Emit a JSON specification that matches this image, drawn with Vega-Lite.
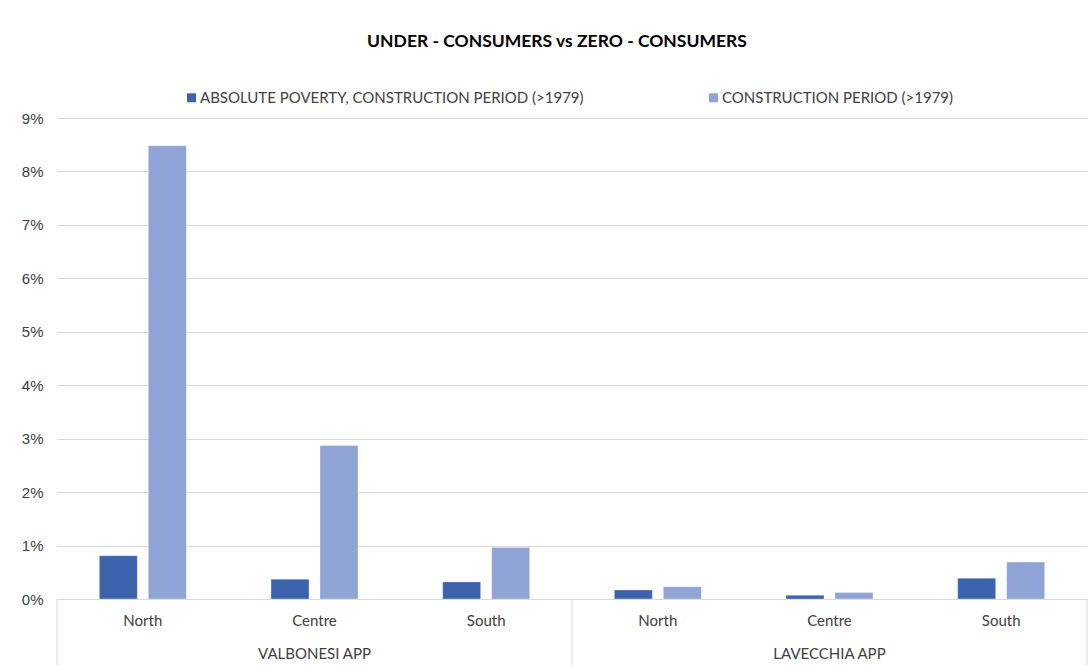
{
  "$schema": "https://vega.github.io/schema/vega-lite/v6.json",
  "width": 1030,
  "height": 481,
  "autosize": {"type": "none"},
  "padding": {"left": 57, "top": 118, "right": 3, "bottom": 66},
  "background": "white",
  "title": {
    "text": "UNDER - CONSUMERS vs ZERO - CONSUMERS",
    "font": "Lato",
    "fontSize": 17.5,
    "fontWeight": "bold",
    "color": "#000000",
    "anchor": "middle",
    "dx": -15,
    "offset": 40
  },
  "config": {"view": {"stroke": null}, "font": "Lato"},
  "layer": [
    {
      "data": {
        "values": [
          {"key": "VALBONESI APP|North", "series": "ABSOLUTE POVERTY, CONSTRUCTION PERIOD (>1979)", "value": 0.0081},
          {"key": "VALBONESI APP|North", "series": "CONSTRUCTION PERIOD (>1979)", "value": 0.0848},
          {"key": "VALBONESI APP|Centre", "series": "ABSOLUTE POVERTY, CONSTRUCTION PERIOD (>1979)", "value": 0.0037},
          {"key": "VALBONESI APP|Centre", "series": "CONSTRUCTION PERIOD (>1979)", "value": 0.0287},
          {"key": "VALBONESI APP|South", "series": "ABSOLUTE POVERTY, CONSTRUCTION PERIOD (>1979)", "value": 0.0032},
          {"key": "VALBONESI APP|South", "series": "CONSTRUCTION PERIOD (>1979)", "value": 0.00965},
          {"key": "LAVECCHIA APP|North", "series": "ABSOLUTE POVERTY, CONSTRUCTION PERIOD (>1979)", "value": 0.0017},
          {"key": "LAVECCHIA APP|North", "series": "CONSTRUCTION PERIOD (>1979)", "value": 0.0023},
          {"key": "LAVECCHIA APP|Centre", "series": "ABSOLUTE POVERTY, CONSTRUCTION PERIOD (>1979)", "value": 0.0007},
          {"key": "LAVECCHIA APP|Centre", "series": "CONSTRUCTION PERIOD (>1979)", "value": 0.0012},
          {"key": "LAVECCHIA APP|South", "series": "ABSOLUTE POVERTY, CONSTRUCTION PERIOD (>1979)", "value": 0.0039},
          {"key": "LAVECCHIA APP|South", "series": "CONSTRUCTION PERIOD (>1979)", "value": 0.0069}
        ]
      },
      "mark": {"type": "bar", "stroke": "#ffffff", "strokeOpacity": 0.5, "strokeWidth": 0.6},
      "encoding": {
        "x": {
          "field": "key",
          "type": "nominal",
          "sort": ["VALBONESI APP|North", "VALBONESI APP|Centre", "VALBONESI APP|South", "LAVECCHIA APP|North", "LAVECCHIA APP|Centre", "LAVECCHIA APP|South"],
          "scale": {"paddingInner": 0, "paddingOuter": 0},
          "axis": {
            "title": null,
            "labelExpr": "split(datum.value, '|')[1]",
            "labelAngle": 0,
            "labelFont": "Lato",
            "labelFontSize": 15,
            "labelColor": "#404040",
            "labelPadding": 14,
            "ticks": false,
            "domainColor": "#d9d9d9",
            "domainWidth": 1
          }
        },
        "xOffset": {
          "field": "series",
          "sort": ["ABSOLUTE POVERTY, CONSTRUCTION PERIOD (>1979)", "CONSTRUCTION PERIOD (>1979)"],
          "scale": {"paddingInner": 0.2245, "paddingOuter": 0.864}
        },
        "y": {
          "field": "value",
          "type": "quantitative",
          "scale": {"domain": [0, 0.09]},
          "axis": {
            "title": null,
            "format": ".0%",
            "values": [0, 0.01, 0.02, 0.03, 0.04, 0.05, 0.06, 0.07, 0.08, 0.09],
            "domain": false,
            "ticks": false,
            "labelFont": "Liberation Sans",
            "labelFontSize": 15,
            "labelColor": "#404040",
            "labelPadding": 14,
            "gridColor": "#d9d9d9",
            "gridWidth": 1
          }
        },
        "color": {
          "field": "series",
          "type": "nominal",
          "sort": ["ABSOLUTE POVERTY, CONSTRUCTION PERIOD (>1979)", "CONSTRUCTION PERIOD (>1979)"],
          "scale": {"range": ["#3C64AD", "#8FA4D5"]},
          "legend": {
            "title": null,
            "orient": "none",
            "legendX": 127,
            "legendY": -28,
            "direction": "horizontal",
            "symbolType": "square",
            "symbolSize": 81,
            "symbolStrokeWidth": 0,
            "labelFont": "Lato",
            "labelFontSize": 15,
            "labelColor": "#404040",
            "labelOffset": 1,
            "labelLimit": 0,
            "columnPadding": 122,
            "padding": 0
          }
        }
      }
    },
    {
      "data": {"values": [{"key": "VALBONESI APP|North"}, {"key": "LAVECCHIA APP|North"}]},
      "mark": {"type": "rule", "color": "#d9d9d9", "strokeWidth": 1},
      "encoding": {
        "x": {"field": "key", "type": "nominal", "bandPosition": 0,
              "sort": ["VALBONESI APP|North", "VALBONESI APP|Centre", "VALBONESI APP|South", "LAVECCHIA APP|North", "LAVECCHIA APP|Centre", "LAVECCHIA APP|South"]},
        "y": {"datum": 0, "type": "quantitative", "scale": {"domain": [0, 0.09]}},
        "y2": {"datum": -0.0125}
      }
    },
    {
      "data": {"values": [{"key": "LAVECCHIA APP|South"}]},
      "mark": {"type": "rule", "color": "#d9d9d9", "strokeWidth": 1},
      "encoding": {
        "x": {"field": "key", "type": "nominal", "bandPosition": 1,
              "sort": ["VALBONESI APP|North", "VALBONESI APP|Centre", "VALBONESI APP|South", "LAVECCHIA APP|North", "LAVECCHIA APP|Centre", "LAVECCHIA APP|South"]},
        "y": {"datum": 0, "type": "quantitative", "scale": {"domain": [0, 0.09]}},
        "y2": {"datum": -0.0125}
      }
    },
    {
      "data": {"values": [{"key": "VALBONESI APP|Centre", "group": "VALBONESI APP"}, {"key": "LAVECCHIA APP|Centre", "group": "LAVECCHIA APP"}]},
      "mark": {"type": "text", "font": "Lato", "fontSize": 15, "color": "#404040", "baseline": "middle", "align": "center"},
      "encoding": {
        "x": {"field": "key", "type": "nominal",
              "sort": ["VALBONESI APP|North", "VALBONESI APP|Centre", "VALBONESI APP|South", "LAVECCHIA APP|North", "LAVECCHIA APP|Centre", "LAVECCHIA APP|South"]},
        "y": {"datum": -0.0103, "type": "quantitative", "scale": {"domain": [0, 0.09]}},
        "text": {"field": "group"}
      }
    }
  ]
}
